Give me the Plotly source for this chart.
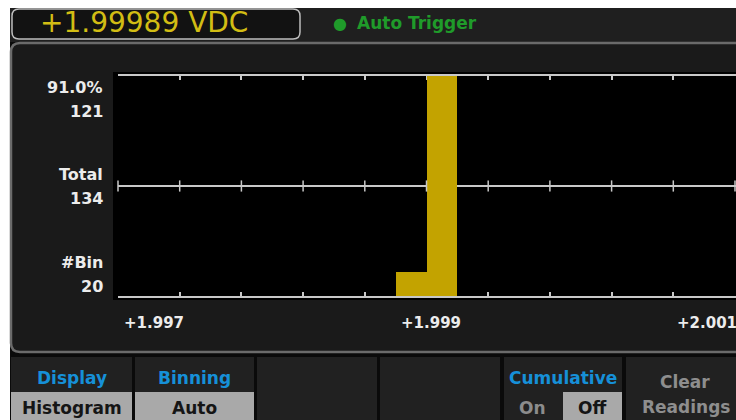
import plotly.graph_objects as go

W, H = 736, 420

# ---------------- data ----------------
reading_text = "+1.99989 VDC"
trigger_text = "Auto Trigger"
bin_edges = [1.9970, 1.9972, 1.9974, 1.9976, 1.9978, 1.9980, 1.9982, 1.9984,
             1.9986, 1.9988, 1.9990, 1.9992, 1.9994, 1.9996, 1.9998, 2.0000,
             2.0002, 2.0004, 2.0006, 2.0008, 2.0010]
bin_counts = [0, 0, 0, 0, 0, 0, 0, 0, 0, 13, 121, 0, 0, 0, 0, 0, 0, 0, 0, 0]
grid_ticks = [1.9970, 1.9974, 1.9978, 1.9982, 1.9986, 1.9990, 1.9994,
              1.9998, 2.0002, 2.0006, 2.0010]
x_label_vals = [1.997, 1.999, 2.001]
x_label_text = ["+1.997", "+1.999", "+2.001"]
y_max = 121
y_mid = 60.5
info_top = ["91.0%", "121"]
info_mid = ["Total", "134"]
info_bot = ["#Bin", "20"]
menu_titles = ["Display", "Binning", "", "", "Cumulative", ""]
menu_values = ["Histogram", "Auto", "", "", "", ""]

# ---------------- styling helpers ----------------
FONT = "DejaVu Sans"
GRID = "#c8c8c8"
BAR = "#c3a300"


def px(x):
    return x / W


def py(y):
    return 1 - y / H


def P(x, y):
    return f"{px(x):.5f},{py(y):.5f}"


def rrect(x0, y0, x1, y1, r, fill, line=None, lw=0):
    path = (f"M {P(x0 + r, y0)} L {P(x1 - r, y0)} Q {P(x1, y0)} {P(x1, y0 + r)} "
            f"L {P(x1, y1 - r)} Q {P(x1, y1)} {P(x1 - r, y1)} L {P(x0 + r, y1)} "
            f"Q {P(x0, y1)} {P(x0, y1 - r)} L {P(x0, y0 + r)} Q {P(x0, y0)} {P(x0 + r, y0)} Z")
    return dict(type="path", path=path, xref="paper", yref="paper", layer="below",
                fillcolor=fill, line=dict(color=line or fill, width=lw))


def rect(x0, y0, x1, y1, fill):
    return dict(type="rect", xref="paper", yref="paper", layer="below",
                x0=px(x0), x1=px(x1), y0=py(y1), y1=py(y0),
                fillcolor=fill, line=dict(width=0))


def text(t, x, y, size, color, anchor="center", bold=True, family=FONT):
    return dict(text=t, x=px(x), y=py(y), xref="paper", yref="paper",
                xanchor=anchor, yanchor="middle", showarrow=False,
                font=dict(family=family, size=size, color=color,
                          weight="bold" if bold else "normal"))


# ---------------- figure ----------------
centers = [(a + b) / 2 for a, b in zip(bin_edges[:-1], bin_edges[1:])]
widths = [b - a for a, b in zip(bin_edges[:-1], bin_edges[1:])]

fig = go.Figure()
# tick marks across the middle line
fig.add_trace(go.Scatter(
    x=grid_ticks, y=[y_mid] * len(grid_ticks), mode="markers",
    marker=dict(symbol="line-ns", size=8, line=dict(color=GRID, width=1.5)),
    hoverinfo="skip", showlegend=False, cliponaxis=False))
fig.add_trace(go.Bar(
    x=centers, y=bin_counts, width=widths,
    marker=dict(color=BAR, line=dict(width=0)),
    hoverinfo="skip", showlegend=False))

shapes = [
    rect(10, 8, 736, 420, "#0a0a0a"),
    rect(10, 8, 736, 42, "#1f1f1f"),
    rrect(12, 9, 300, 39, 7, "#121212", "#bdbdbd", 1.5),
    rrect(11, 43, 770, 352, 9, "#1a1a1a", "#6b6b6b", 2.5),
    rect(113, 72, 736, 300, "#000000"),
]
menu_x = [(11, 132), (135, 254), (257, 377), (380, 500), (504, 622), (626, 736)]
for (x0, x1) in menu_x:
    shapes.append(rect(x0, 357, x1, 420, "#212121"))
shapes.append(rect(11, 392, 132, 420, "#a9a9a9"))
shapes.append(rect(135, 392, 254, 420, "#a9a9a9"))
shapes.append(rect(563, 392, 622, 420, "#a9a9a9"))

ann = []
ann.append(text(reading_text, 38, 22, 28, "#d2bd14", anchor="left", bold=False))
ann.append(text("●", 340, 23, 16, "#1f9b2a"))
ann.append(text(trigger_text, 355, 23, 17, "#1f9b2a", anchor="left"))

for (lines, ys) in [(info_top, (87, 112)), (info_mid, (174, 198)), (info_bot, (262, 286))]:
    for t, yy in zip(lines, ys):
        ann.append(text(t, 105, yy, 16, "#ececec", anchor="right"))

anchors = ["left", "center", "right"]
for v, t, a in zip(x_label_vals, x_label_text, anchors):
    ann.append(dict(text=t, x=v, y=py(323), xref="x", yref="paper",
                    xanchor=a, yanchor="middle", xshift=4, showarrow=False,
                    font=dict(family=FONT, size=15, color="#ececec", weight="bold")))

for (x0, x1), t in zip(menu_x, menu_titles):
    if t:
        ann.append(text(t, (x0 + x1) / 2, 378, 17, "#1690d8"))
for (x0, x1), t in zip(menu_x, menu_values):
    if t:
        ann.append(text(t, (x0 + x1) / 2, 408, 17, "#151515"))
ann.append(text("On", 532, 408, 17, "#8c8c8c"))
ann.append(text("Off", 592, 408, 17, "#151515"))
ann.append(text("Clear", 685, 382, 17, "#8e8e8e"))
ann.append(text("Readings", 686, 407, 17, "#8e8e8e"))

fig.update_layout(
    width=W, height=H, margin=dict(l=0, r=0, t=0, b=0),
    paper_bgcolor="#ffffff", plot_bgcolor="#000000",
    bargap=0, shapes=shapes, annotations=ann, showlegend=False,
    xaxis=dict(domain=[px(118), 1], range=[1.997, 2.0010065],
               showline=True, linecolor=GRID, linewidth=2, mirror="ticks",
               ticks="inside", ticklen=4, tickwidth=1.5, tickcolor=GRID,
               tickvals=grid_ticks, showticklabels=False, showgrid=False,
               zeroline=False, layer="below traces", fixedrange=True),
    yaxis=dict(domain=[py(296), py(76)], range=[0, y_max],
               tickvals=[y_mid], showticklabels=False, showgrid=True,
               gridcolor=GRID, gridwidth=2, zeroline=False, showline=False,
               ticks="", fixedrange=True),
)

fig.write_html(
    "out.html",
    config={"displayModeBar": False},
    post_script="document.body.style.margin='0';document.body.style.overflow='hidden';",
)
